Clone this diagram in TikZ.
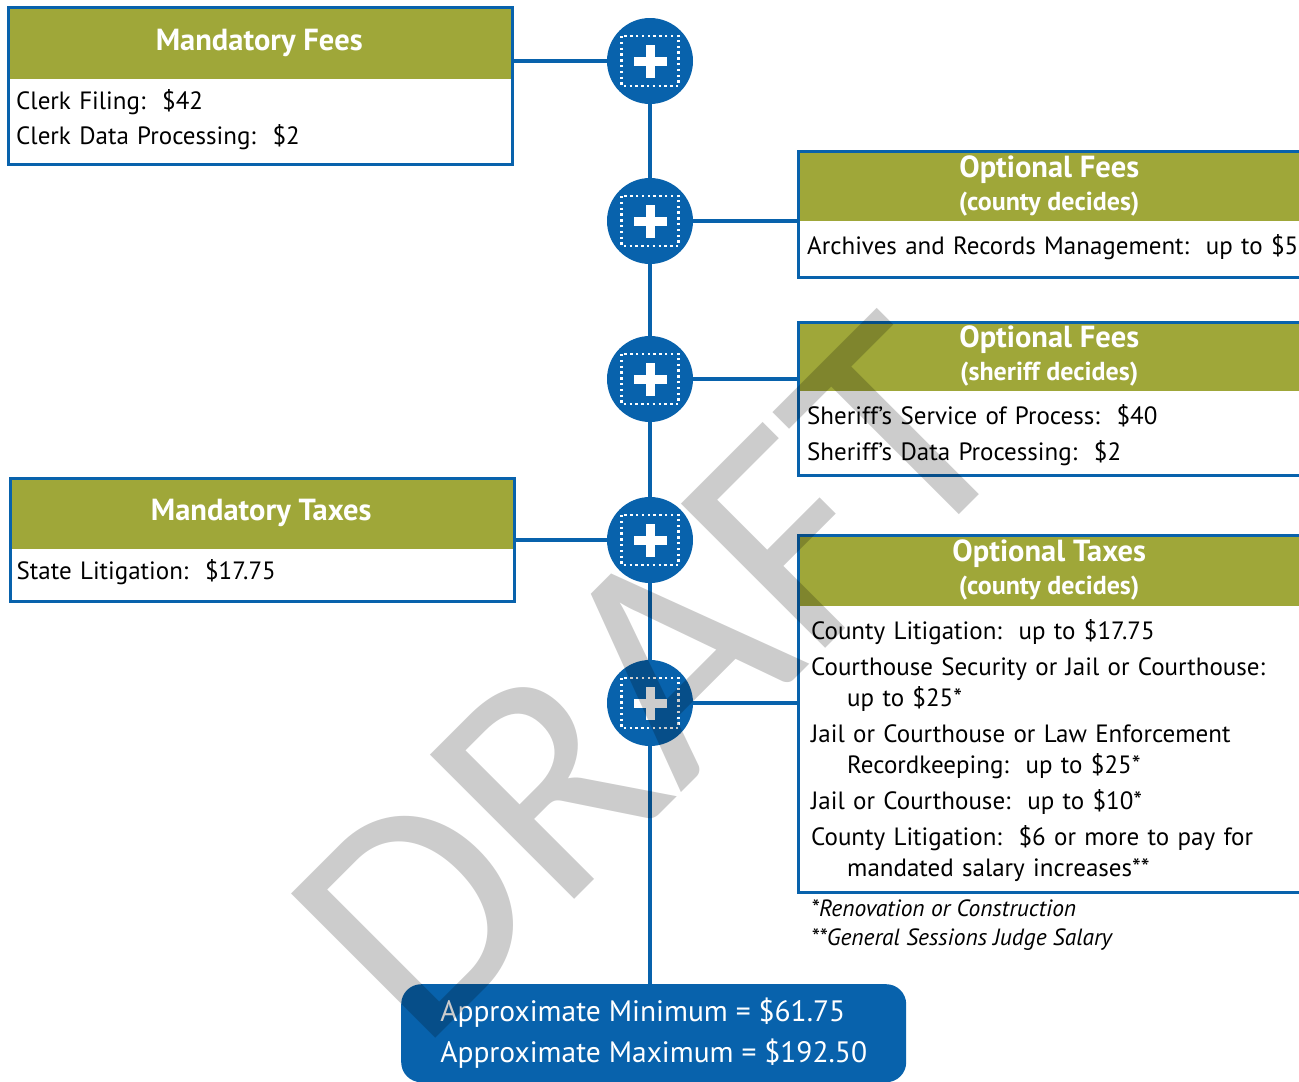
\documentclass[tikz,border=0pt]{standalone}
\usepackage{fontspec}
\setmainfont{PT Sans}
\newfontfamily\draftfont{Carlito}
\usetikzlibrary{fit,positioning,calc}
\definecolor{feeblue}{HTML}{0862AC}
\definecolor{feegreen}{HTML}{9FA739}
\newcommand{\subhead}[1]{{\fontsize{26}{33}\selectfont #1}}

\begin{document}
\begin{tikzpicture}[
		x=1pt, y=-1pt,
		head/.style={anchor=north west, fill=feegreen, text=white, inner sep=0,
			minimum width=504, align=center, font=\bfseries\fontsize{30.5}{33}\selectfont},
		body/.style={anchor=north west, inner xsep=10, inner ysep=11.3, text width=560,
			align=left, font=\fontsize{25}{31}\selectfont, execute at begin node=\strut},
		frame/.style={anchor=north west, draw=feeblue, line width=2.5, inner sep=0, minimum width=504},
		plus/.style={circle, fill=feeblue, minimum size=86, inner sep=0,
			path picture={
				\draw[white, line width=2.4pt, dash pattern=on 2.4pt off 3.4pt]
					($(path picture bounding box.center)+(-28.5,-25)$) rectangle ($(path picture bounding box.center)+(28.5,25)$);
				\fill[white] ($(path picture bounding box.center)+(-16.5,-4.5)$) rectangle ($(path picture bounding box.center)+(16.5,4.5)$);
				\fill[white] ($(path picture bounding box.center)+(-4.5,-16.5)$) rectangle ($(path picture bounding box.center)+(4.5,16.5)$);
			}},
		link/.style={draw=feeblue, line width=4.5},
		note/.style={anchor=north west, inner sep=0, align=left,
			font=\itshape\fontsize{23.5}{29}\selectfont, execute at begin node=\strut},
		total/.style={anchor=north west, fill=feeblue, text=white, rounded corners=20, inner sep=0,
			minimum width=505, minimum height=98, align=left, font=\fontsize{29.5}{41.5}\selectfont},
		draft/.style={anchor=base, rotate=45, inner sep=0, text=black, text opacity=0.2,
			font=\draftfont\fontsize{318}{318}\selectfont}
	]

		\useasboundingbox (0,0) rectangle (1299,1082);
		\clip (0,0) rectangle (1299,1082);
		\fill[white] (0,0) rectangle (1299,1082);

		% left side
		\node[head, minimum height=73] (mfh) at (7,6) {Mandatory Fees};
		\node[body, inner xsep=9, inner ysep=7.8] (mfb) at (mfh.south west)
			{Clerk Filing:\ \ \$42\\[4pt]Clerk Data Processing:\ \ \$2};
		\node[frame, minimum height=157] (mf) at (7,6) {};

		\node[head, minimum height=72] (mth) at (9,477) {Mandatory Taxes};
		\node[body, inner xsep=7.5, inner ysep=8.5] (mtb) at (mth.south west)
			{State Litigation:\ \ \$17.75};
		\node[frame, minimum height=123] (mt) at (9,477) {};

		% right side
		\node[head, minimum height=71] (cfh) at (797,150) {Optional Fees\\\subhead{(county decides)}};
		\node[body] (cfb) at (cfh.south west)
			{Archives and Records Management:\ \ up to \$5};
		\node[frame, minimum height=126] (cf) at (797,150) {};

		\node[head, minimum height=70] (sfh) at (797,321) {Optional Fees\\\subhead{(sheriff decides)}};
		\node[body] (sfb) at (sfh.south west)
			{Sheriff’s Service of Process:\ \ \$40\\[5pt]Sheriff’s Data Processing:\ \ \$2};
		\node[frame, minimum height=153] (sf) at (797,321) {};

		\node[head, minimum height=72] (oth) at (797,534) {Optional Taxes\\\subhead{(county decides)}};
		\node[body, inner xsep=14] (otb) at (oth.south west)
			{County Litigation:\ \ up to \$17.75\\[5pt]
			Courthouse Security or Jail or Courthouse:\\\hspace*{36pt}up to \$25*\\[5pt]
			Jail or Courthouse or Law Enforcement\\\hspace*{36pt}Recordkeeping:\ \ up to \$25*\\[5pt]
			Jail or Courthouse:\ \ up to \$10*\\[5pt]
			County Litigation:\ \ \$6 or more to pay for\\\hspace*{36pt}mandated salary increases**};
		\node[frame, minimum height=357] (ot) at (797,534) {};
		\node[note] (fn) at (811,899)
			{*Renovation or Construction\\**General Sessions Judge Salary};

		% spine
		\node[plus] (c1) at (650,61) {};
		\node[plus] (c2) at (650,221) {};
		\node[plus] (c3) at (650,379) {};
		\node[plus] (c4) at (650,540) {};
		\node[plus] (c5) at (650,703) {};
		\node[total] (sum) at (401,984)
			{Approximate Minimum = \$61.75\\Approximate Maximum = \$192.50};

		\draw[link] (c1) -- (c2);
		\draw[link] (c2) -- (c3);
		\draw[link] (c3) -- (c4);
		\draw[link] (c4) -- (c5);
		\draw[link] (c5) -- (c5 |- sum.north);
		\draw[link, line width=4] (c1) -- (c1 -| mf.east);
		\draw[link, line width=4] (c4) -- (c4 -| mt.east);
		\draw[link, line width=4] (c2) -- (c2 -| cf.west);
		\draw[link, line width=4] (c3) -- (c3 -| sf.west);
		\draw[link, line width=4] (c5) -- (c5 -| ot.west);

		\node[draft] (wm) at (722,752) {DRAFT};
	\end{tikzpicture}
\end{document}
